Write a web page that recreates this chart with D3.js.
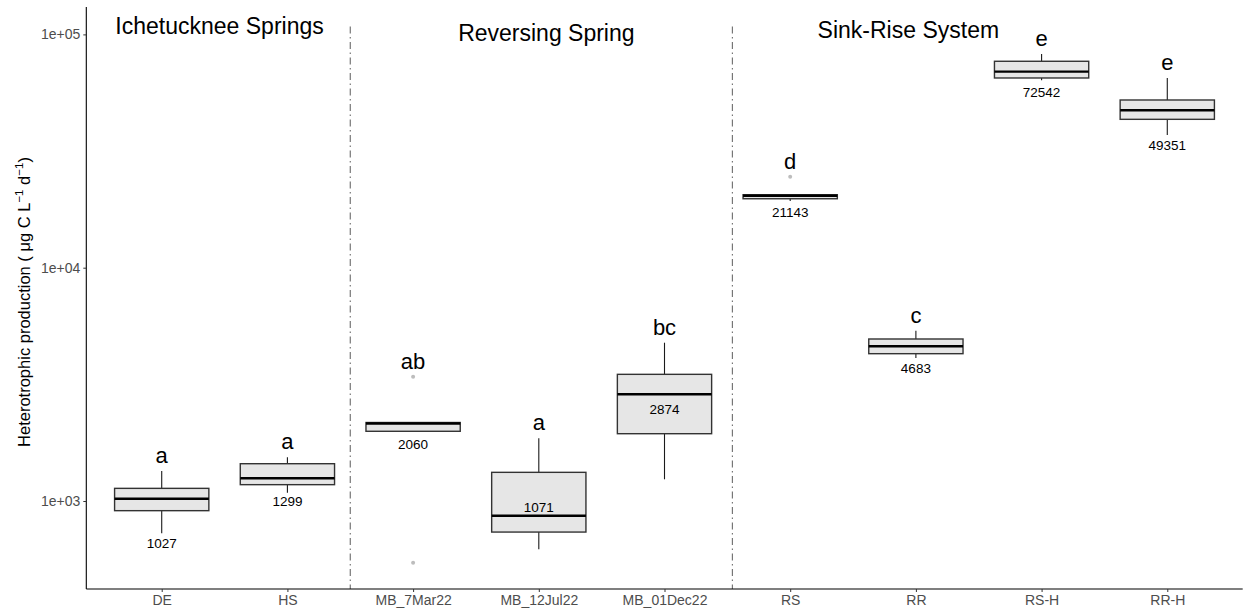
<!DOCTYPE html>
<html>
<head>
<meta charset="utf-8">
<script src="https://cdn.jsdelivr.net/npm/d3@7"></script>
<style>
  html, body { margin: 0; padding: 0; background: #fff; }
  svg { display: block; font-family: "Liberation Sans", Arial, sans-serif; }
</style>
</head>
<body>
<svg id="chart" width="1250" height="613"></svg>
<script>
// ---------------- data ----------------
const categories  = ["DE", "HS", "MB_7Mar22", "MB_12Jul22", "MB_01Dec22", "RS", "RR", "RS-H", "RR-H"];
const whiskerLow  = [727, 1085, 1990, 621, 1239, 19310, 4102, 63570, 37060];
const q1          = [909, 1175, 1990, 736, 1943, 19750, 4280, 65040, 43250];
const median      = [1023, 1251, 2150, 865, 2867, 20350, 4604, 69220, 47280];
const q3          = [1133, 1445, 2170, 1327, 3491, 20550, 4948, 76700, 52340];
const whiskerHigh = [1345, 1539, 2170, 1857, 4770, 20550, 5370, 82400, 65040];
const outliers    = [[], [], [3410, 544], [], [], [24550], [], [], []];
const letters     = ["a", "a", "ab", "a", "bc", "d", "c", "e", "e"];
const valueLabels = [1027, 1299, 2060, 1071, 2874, 21143, 4683, 72542, 49351];
const valueLabelAt = [661, 1000, 1755, 940, 2479, 17330, 3706, 56470, 33570];
const groupTitles = ["Ichetucknee Springs", "Reversing Spring", "Sink-Rise System"];
const groupTitleX = [0.46, 3.06, 5.94];          // category-index units
const groupTitleY = [108300, 101600, 104400];    // data units
const dividerX    = [1.5, 4.54];                 // category-index units
const dividerTop  = 108000;
const yTicks      = [1e3, 1e4, 1e5];
const yDomain     = [419.6, 131050];

// ---------------- layout ----------------
const svg = d3.select("#chart");
const pLeft = 86.3, pRight = 1242.7, pTop = 7, pBottom = 589;

const x = d3.scalePoint().domain(categories).range([pLeft, pRight]).padding(0.6);
const xIdx = d3.scaleLinear().domain([-0.6, categories.length - 1 + 0.6]).range([pLeft, pRight]);
const y = d3.scaleLog().domain(yDomain).range([pBottom, pTop]);
const boxW = x.step() * 0.75;

// dividers
svg.append("g").selectAll("line").data(dividerX).join("line")
  .attr("x1", d => xIdx(d)).attr("x2", d => xIdx(d))
  .attr("y1", y(dividerTop)).attr("y2", pBottom)
  .attr("stroke", "#6b6b6b").attr("stroke-width", 1.1)
  .attr("stroke-dasharray", "7,3.5,1.5,3.5");

// boxes
const rows = categories.map((c, i) => ({
  c, lo: whiskerLow[i], q1: q1[i], med: median[i], q3: q3[i], hi: whiskerHigh[i],
  out: outliers[i], letter: letters[i], lab: valueLabels[i], labAt: valueLabelAt[i]
}));

const g = svg.append("g").selectAll("g").data(rows).join("g");

// whiskers
g.append("line")
  .attr("x1", d => x(d.c)).attr("x2", d => x(d.c))
  .attr("y1", d => y(d.q3)).attr("y2", d => y(d.hi))
  .attr("stroke", "#1a1a1a").attr("stroke-width", 1.1);
g.append("line")
  .attr("x1", d => x(d.c)).attr("x2", d => x(d.c))
  .attr("y1", d => y(d.q1)).attr("y2", d => y(d.lo))
  .attr("stroke", "#1a1a1a").attr("stroke-width", 1.1);

// box
g.append("rect")
  .attr("x", d => x(d.c) - boxW / 2).attr("width", boxW)
  .attr("y", d => y(d.q3)).attr("height", d => y(d.q1) - y(d.q3))
  .attr("fill", "#e6e6e6").attr("stroke", "#333").attr("stroke-width", 1.4);

// median
g.append("line")
  .attr("x1", d => x(d.c) - boxW / 2).attr("x2", d => x(d.c) + boxW / 2)
  .attr("y1", d => y(d.med)).attr("y2", d => y(d.med))
  .attr("stroke", "#000").attr("stroke-width", 2.4);

// outliers
g.selectAll("circle").data(d => d.out.map(v => ({ c: d.c, v }))).join("circle")
  .attr("cx", d => x(d.c)).attr("cy", d => y(d.v)).attr("r", 2)
  .attr("fill", "#bdbdbd");

// letters
g.append("text")
  .attr("x", d => x(d.c))
  .attr("y", d => y(d3.max([d.hi, ...d.out])) - 8)
  .attr("text-anchor", "middle")
  .attr("font-size", 22).attr("fill", "#000")
  .text(d => d.letter);

// value labels
g.append("text")
  .attr("x", d => x(d.c))
  .attr("y", d => y(d.labAt))
  .attr("dy", "0.36em")
  .attr("text-anchor", "middle")
  .attr("font-size", 13.5).attr("fill", "#000")
  .text(d => d.lab);

// group titles
svg.append("g").selectAll("text").data(groupTitles).join("text")
  .attr("x", (d, i) => xIdx(groupTitleX[i]))
  .attr("y", (d, i) => y(groupTitleY[i]))
  .attr("dy", "0.35em")
  .attr("text-anchor", "middle")
  .attr("font-size", 23).attr("fill", "#000")
  .text(d => d);

// axes
const xAxis = svg.append("g").attr("transform", `translate(0,${pBottom})`)
  .call(d3.axisBottom(x).tickSize(3).tickSizeOuter(0));
const yAxis = svg.append("g").attr("transform", `translate(${pLeft},0)`)
  .call(d3.axisLeft(y).tickValues(yTicks).tickSize(3).tickSizeOuter(0)
    .tickFormat(d => "1e+0" + Math.round(Math.log10(d))));

[xAxis, yAxis].forEach(a => {
  a.select(".domain").attr("stroke", "#000").attr("stroke-width", 1.1);
  a.selectAll(".tick line").attr("stroke", "#333");
  a.selectAll(".tick text").attr("fill", "#4d4d4d").attr("font-size", 14)
    .attr("font-family", '"Liberation Sans", Arial, sans-serif');
});
xAxis.select(".domain").attr("d", `M${pLeft},0H${pRight}`);
yAxis.select(".domain").attr("d", `M0,${pTop}V${pBottom}`);

// y-axis title
const yt = svg.append("text")
  .attr("transform", `translate(30,${(pTop + pBottom) / 2 + 4}) rotate(-90)`)
  .attr("text-anchor", "middle")
  .attr("font-size", 16.5).attr("fill", "#000");
yt.append("tspan").text("Heterotrophic production ( μg C L");
yt.append("tspan").attr("dy", -7).attr("font-size", 11.5).text("−1");
yt.append("tspan").attr("dy", 7).text(" d");
yt.append("tspan").attr("dy", -7).attr("font-size", 11.5).text("−1");
yt.append("tspan").attr("dy", 7).text(")");
</script>
</body>
</html>
